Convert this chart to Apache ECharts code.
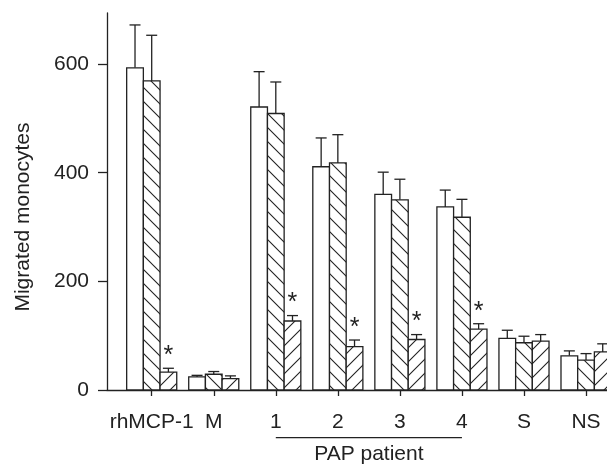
<!DOCTYPE html>
<html>
<head>
<meta charset="utf-8">
<script src="https://cdn.jsdelivr.net/npm/echarts@6/dist/echarts.min.js"></script>
<style>
html,body{margin:0;padding:0;background:#fff;}
#c{width:607px;height:474px;}
</style>
</head>
<body>
<div id="c"></div>
<script>
// ---- data ----
const categories = ['rhMCP-1', 'M', '1', '2', '3', '4', 'S', 'NS'];
const openVals  = [593, 24, 521, 411, 360, 337, 95, 63];
const openSD    = [79, 3, 65, 53, 41, 31, 15, 9];
const backVals  = [569, 29, 509, 418, 350, 318, 87, 55];
const backSD    = [84, 5, 58, 52, 38, 33, 12, 12];
const fwdVals   = [33, 21, 127, 80, 93, 112, 90, 70];
const fwdSD     = [7, 5, 10, 12, 9, 10, 12, 15];
const fwdSig    = [1, 0, 1, 1, 1, 1, 0, 0];
const yTicks    = [0, 200, 400, 600];
const xTicks    = [0, 1, 2, 3, 4, 5, 6, 7];

// ---- styles ----
const INK = '#222';
const FONT = 'Liberation Sans, Arial, sans-serif';
const BAR_FRAC = 0.269;

function hatch(dir) {
  const s = 14;
  const c = document.createElement('canvas');
  c.width = s; c.height = s;
  const g = c.getContext('2d');
  g.fillStyle = '#fff'; g.fillRect(0, 0, s, s);
  g.strokeStyle = INK; g.lineWidth = 1.1;
  g.beginPath();
  for (let k = -1; k <= 1; k++) {
    if (dir === 'back') { g.moveTo(k * s - 1, -1); g.lineTo(k * s + s + 1, s + 1); }
    else { g.moveTo(k * s - 1, s + 1); g.lineTo(k * s + s + 1, -1); }
  }
  g.stroke();
  return { type: 'pattern', image: c, repeat: 'repeat' };
}
const fills = ['#fff', hatch('back'), hatch('fwd')];

function makeSeries(vals, sds, sigs, idx) {
  return {
    type: 'custom',
    clip: false,
    data: vals.map((v, i) => [i, v, sds[i], sigs ? sigs[i] : 0]),
    renderItem: function (params, api) {
      const x = api.value(0), v = api.value(1), sd = api.value(2), sig = api.value(3);
      const unit = api.size([1, 0])[0];
      const bw = unit * BAR_FRAC;
      const base = api.coord([x, 0]);
      const cx = base[0] + (idx - 1) * bw;
      const top = api.coord([x, v])[1];
      const et = api.coord([x, v + sd])[1];
      const children = [
        { type: 'line', shape: { x1: cx, y1: top, x2: cx, y2: et }, style: { stroke: INK, lineWidth: 1.3 } },
        { type: 'line', shape: { x1: cx - 5.5, y1: et, x2: cx + 5.5, y2: et }, style: { stroke: INK, lineWidth: 1.3 } },
        { type: 'rect', shape: { x: cx - bw / 2, y: top, width: bw, height: base[1] - top },
          style: { fill: fills[idx], stroke: INK, lineWidth: 1.3 } }
      ];
      if (sig) {
        children.push({ type: 'text', x: cx, y: et - 12,
          style: { text: '*', fontSize: 25, fontFamily: FONT, fill: INK, align: 'center', verticalAlign: 'middle' } });
      }
      return { type: 'group', children: children };
    }
  };
}

const chart = echarts.init(document.getElementById('c'));
chart.setOption({
  animation: false,
  backgroundColor: '#fff',
  grid: { left: 107, top: 13, right: 0, bottom: 84 },
  xAxis: {
    type: 'value', min: -0.7205, max: 7.338,
    splitLine: { show: false },
    axisLine: { show: true, onZero: false, lineStyle: { color: INK, width: 1.3 } },
    axisTick: { show: true, customValues: xTicks, length: 6, lineStyle: { color: INK, width: 1.3 } },
    axisLabel: { customValues: xTicks, margin: 22, fontSize: 21, fontFamily: FONT, color: INK,
      formatter: v => categories[Math.round(v)] }
  },
  yAxis: {
    type: 'value', min: 0, max: 694,
    splitLine: { show: false },
    axisLine: { show: true, onZero: false, lineStyle: { color: INK, width: 1.3 } },
    axisTick: { show: true, customValues: yTicks, length: 9, lineStyle: { color: INK, width: 1.3 } },
    axisLabel: { customValues: yTicks, margin: 18, fontSize: 21, fontFamily: FONT, color: INK }
  },
  series: [
    makeSeries(openVals, openSD, null, 0),
    makeSeries(backVals, backSD, null, 1),
    makeSeries(fwdVals, fwdSD, fwdSig, 2)
  ]
});

const p1 = chart.convertToPixel({ xAxisIndex: 0 }, 2);
const p4 = chart.convertToPixel({ xAxisIndex: 0 }, 5);
chart.setOption({
  graphic: [
    { type: 'text', x: 23, y: 217, rotation: Math.PI / 2,
      style: { text: 'Migrated monocytes', fontSize: 21, fontFamily: FONT, fill: INK, align: 'center', verticalAlign: 'middle' } },
    { type: 'line', shape: { x1: p1, y1: 437.7, x2: p4, y2: 437.7 }, style: { stroke: INK, lineWidth: 1.3 } },
    { type: 'text', x: (p1 + p4) / 2, y: 454,
      style: { text: 'PAP patient', fontSize: 21, fontFamily: FONT, fill: INK, align: 'center', verticalAlign: 'middle' } }
  ]
});
</script>
</body>
</html>
